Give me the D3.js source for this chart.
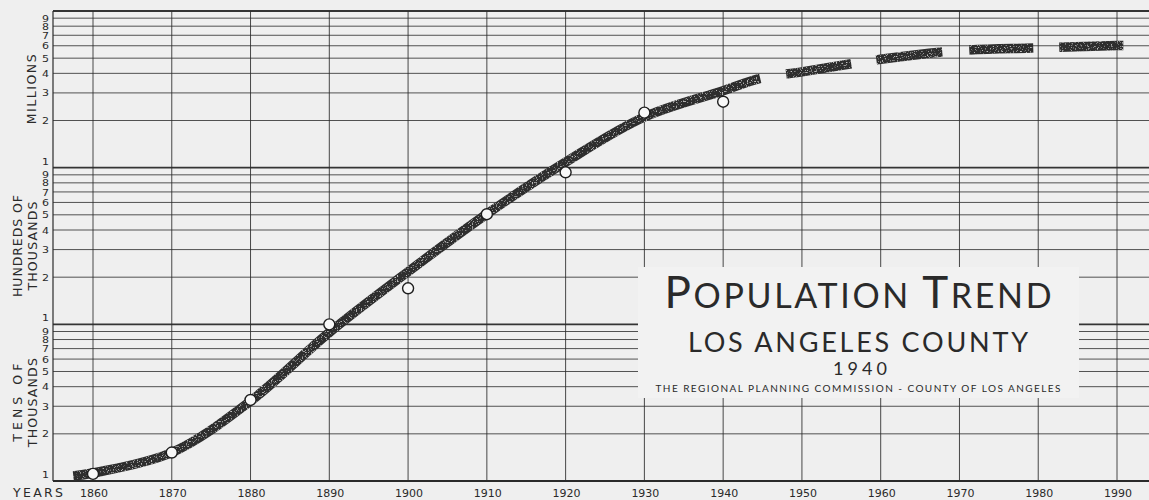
<!DOCTYPE html>
<html>
<head>
<meta charset="utf-8">
<script src="https://cdn.jsdelivr.net/npm/d3@7"></script>
<style>
  html, body { margin: 0; padding: 0; background: #efefef; }
  svg { display: block; }
</style>
</head>
<body>
<svg id="chart" width="1149" height="500"></svg>
<script>
// Census counts of Los Angeles County (open circles)
const censusYears = [1860, 1870, 1880, 1890, 1900, 1910, 1920, 1930, 1940];
const censusValues = [11100, 15200, 32900, 100000, 169800, 504600, 934000, 2244000, 2637000];

// Smoothed trend line, solid through 1944 and projected (dashed) to 1990
const trendYears = [1857.5, 1860, 1870, 1880, 1890, 1900, 1910, 1920, 1930, 1940, 1944.7,
                    1950, 1960, 1970, 1980, 1990, 1990.8];
const trendValues = [10760, 11250, 15200, 32400, 88700, 216700, 506000, 1085000, 2106000,
                     3099000, 3718000, 4090000, 4917000, 5587000, 5810000, 6025000, 6030000];
const projectionStartYear = 1944.7;

// Axis ticks and labels
const yearTicks = [1860, 1870, 1880, 1890, 1900, 1910, 1920, 1930, 1940, 1950, 1960, 1970, 1980, 1990];
const decadeStarts = [1e4, 1e5, 1e6];
const topValue = 1e7;
const mantissas = [1, 2, 3, 4, 5, 6, 7, 8, 9];
const decadeNames = [["TENS OF", "THOUSANDS"], ["HUNDREDS OF", "THOUSANDS"], ["MILLIONS"]];
const axisTitle = "YEARS";

const titleLines = {
  main: [["P", "big"], ["OPULATION ", "small"], ["T", "big"], ["REND", "small"]],
  county: "LOS ANGELES COUNTY",
  year: "1940",
  credit: "THE REGIONAL PLANNING COMMISSION - COUNTY OF LOS ANGELES"
};

const W = 1149, H = 500;
const plot = { left: 53, right: W, top: 11, bottom: 481 };
const ink = "#2a2a2a";
const paper = "#efefef";

const svg = d3.select("#chart");

// sparse light flecks in the heavy pen stroke
const defs = svg.append("defs");
const grain = defs.append("filter").attr("id", "grain")
  .attr("x", "-5%").attr("y", "-5%").attr("width", "110%").attr("height", "110%");
grain.append("feTurbulence")
  .attr("type", "fractalNoise").attr("baseFrequency", 0.8)
  .attr("numOctaves", 2).attr("seed", 7).attr("result", "noise");
grain.append("feColorMatrix")
  .attr("in", "noise").attr("type", "matrix")
  .attr("values", "0 0 0 0 0.55  0 0 0 0 0.55  0 0 0 0 0.55  0 0 0 5 -3.0")
  .attr("result", "spots");
grain.append("feComposite")
  .attr("in", "spots").attr("in2", "SourceGraphic").attr("operator", "in").attr("result", "clipped");
const merge = grain.append("feMerge");
merge.append("feMergeNode").attr("in", "SourceGraphic");
merge.append("feMergeNode").attr("in", "clipped");

svg.append("rect").attr("width", W).attr("height", H).attr("fill", paper);

const x = d3.scaleLinear().domain([1860, 1990]).range([93, 1117]);
const y = d3.scaleLog().domain([1e4, topValue]).range([plot.bottom, plot.top]);

const grid = svg.append("g");

// horizontal log grid
const hValues = [];
decadeStarts.forEach(d => mantissas.forEach(m => hValues.push({ v: d * m, major: m === 1 })));
hValues.push({ v: topValue, major: true });

grid.selectAll("line.h").data(hValues).join("line")
  .attr("class", "h")
  .attr("x1", plot.left).attr("x2", plot.right)
  .attr("y1", d => y(d.v)).attr("y2", d => y(d.v))
  .attr("stroke", ink)
  .attr("stroke-width", d => d.major ? 1.8 : 1)
  .attr("opacity", d => d.major ? 0.95 : 0.8);

// vertical year grid
grid.selectAll("line.v").data(yearTicks).join("line")
  .attr("class", "v")
  .attr("x1", d => x(d)).attr("x2", d => x(d))
  .attr("y1", plot.top).attr("y2", plot.bottom)
  .attr("stroke", ink).attr("stroke-width", 1).attr("opacity", 0.85);

grid.append("line")
  .attr("x1", plot.left).attr("x2", plot.left)
  .attr("y1", plot.top).attr("y2", plot.bottom)
  .attr("stroke", ink).attr("stroke-width", 1.2);

grid.append("line")
  .attr("x1", plot.left).attr("x2", plot.right)
  .attr("y1", plot.bottom).attr("y2", plot.bottom)
  .attr("stroke", ink).attr("stroke-width", 2);

// y tick digits (wide, small figures; the "1" sits just above its line)
const labelFont = "'DejaVu Sans', sans-serif";
const yLabels = [];
decadeStarts.forEach(d => mantissas.forEach(m => yLabels.push({ v: d * m, m })));
svg.append("g").selectAll("text").data(yLabels).join("text")
  .attr("transform", d => `translate(49,${y(d.v) + (d.m === 1 ? -6 : 0.5)}) scale(1.3,1)`)
  .attr("dy", "0.36em")
  .attr("text-anchor", "end")
  .attr("font-family", labelFont)
  .attr("font-size", 8.5)
  .attr("fill", ink)
  .text(d => d.m);

// rotated decade names
const nameG = svg.append("g");
const nameLengths = { "TENS OF": 78, "HUNDREDS OF": 102, "THOUSANDS": 89, "MILLIONS": 70 };
decadeStarts.forEach((d, i) => {
  const cy = y(d * Math.sqrt(10));
  const lines = decadeNames[i];
  const xs = lines.length === 2 ? [17.5, 32.5] : [31];
  lines.forEach((t, j) => {
    nameG.append("text")
      .attr("transform", `translate(${xs[j]},${cy}) rotate(-90)`)
      .attr("text-anchor", "middle")
      .attr("dy", "0.36em")
      .attr("font-family", labelFont)
      .attr("font-size", 12.5)
      .attr("fill", ink)
      .attr("textLength", nameLengths[t])
      .attr("lengthAdjust", "spacing")
      .text(t);
  });
});

// year labels
svg.append("g").selectAll("text").data(yearTicks).join("text")
  .attr("x", d => x(d) + 1)
  .attr("y", 497)
  .attr("text-anchor", "middle")
  .attr("font-family", labelFont)
  .attr("font-size", 11)
  .attr("fill", ink)
  .text(d => d);

svg.append("text")
  .attr("x", 13).attr("y", 497)
  .attr("font-family", labelFont)
  .attr("font-size", 12.5)
  .attr("fill", ink)
  .attr("textLength", 50)
  .attr("lengthAdjust", "spacing")
  .text(axisTitle);

// title panel
const panel = svg.append("g");
panel.append("rect")
  .attr("x", 638).attr("y", 267).attr("width", 441).attr("height", 131)
  .attr("fill", "#f2f2f2");

const titleFont = "Lato, 'Open Sans', sans-serif";
const cx = 858;
const main = panel.append("text")
  .attr("x", cx).attr("y", 308)
  .attr("text-anchor", "middle")
  .attr("font-family", titleFont)
  .attr("fill", ink)
  .attr("textLength", 387)
  .attr("lengthAdjust", "spacing");
titleLines.main.forEach(([t, s]) => {
  main.append("tspan").attr("font-size", s === "big" ? 44 : 34).text(t);
});

panel.append("text")
  .attr("x", cx).attr("y", 352)
  .attr("text-anchor", "middle")
  .attr("font-family", titleFont)
  .attr("font-size", 27)
  .attr("fill", ink)
  .attr("textLength", 340)
  .attr("lengthAdjust", "spacing")
  .text(titleLines.county);

panel.append("text")
  .attr("x", cx + 2).attr("y", 375)
  .attr("text-anchor", "middle")
  .attr("font-family", titleFont)
  .attr("font-size", 18)
  .attr("fill", ink)
  .attr("textLength", 54)
  .attr("lengthAdjust", "spacing")
  .text(titleLines.year);

panel.append("text")
  .attr("x", cx).attr("y", 392)
  .attr("text-anchor", "middle")
  .attr("font-family", titleFont)
  .attr("font-size", 10)
  .attr("fill", ink)
  .attr("textLength", 405)
  .attr("lengthAdjust", "spacing")
  .text(titleLines.credit);

// trend line: solid, then long dashes for the projection
const trend = trendYears.map((yr, i) => [yr, trendValues[i]]);
const line = d3.line().x(d => x(d[0])).y(d => y(d[1])).curve(d3.curveCatmullRom.alpha(0.5));
const path = svg.append("path")
  .attr("d", line(trend))
  .attr("fill", "none")
  .attr("stroke", "#2e2e2e")
  .attr("stroke-width", 9.5)
  .attr("stroke-linecap", "butt")
  .attr("filter", "url(#grain)");

const node = path.node();
const total = node.getTotalLength();
function lengthAtX(px) {
  let lo = 0, hi = total;
  for (let k = 0; k < 40; k++) {
    const mid = (lo + hi) / 2;
    if (node.getPointAtLength(mid).x < px) lo = mid; else hi = mid;
  }
  return (lo + hi) / 2;
}
const solidEndX = x(projectionStartYear);
const dashPattern = [26, 65, 25, 66, 27, 64, 26, 65]; // horizontal run of each gap / dash
const lastX = x(trendYears[trendYears.length - 1]);
let runX = solidEndX, prevL = lengthAtX(solidEndX);
const dashes = [prevL];
dashPattern.forEach(step => {
  runX += step;
  const L = lengthAtX(Math.min(runX, lastX));
  dashes.push(Math.max(L - prevL, 0.01));
  prevL = L;
});
dashes.push(total + 100);
path.attr("stroke-dasharray", dashes.join(" "));

// census points
svg.append("g").selectAll("circle").data(censusYears).join("circle")
  .attr("cx", d => x(d))
  .attr("cy", (d, i) => y(censusValues[i]))
  .attr("r", 5.5)
  .attr("fill", "#f8f8f8")
  .attr("stroke", "#1e1e1e")
  .attr("stroke-width", 1.4);
</script>
</body>
</html>
